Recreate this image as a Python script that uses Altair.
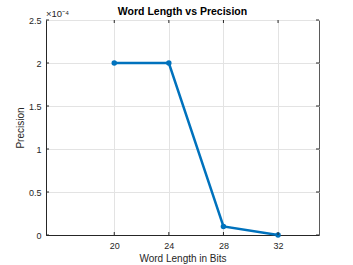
import altair as alt
import pandas as pd

word_length = [20, 24, 28, 32]
precision = [2.0e-4, 2.0e-4, 0.1e-4, 0.0]
x_ticks = [20, 24, 28, 32]
y_ticks = [0, 0.5e-4, 1.0e-4, 1.5e-4, 2.0e-4, 2.5e-4]

W, H = 273, 215
df = pd.DataFrame({"wl": word_length, "p": precision})
xt = pd.DataFrame({"wl": x_ticks})
yt = pd.DataFrame({"p": y_ticks})

FONT = "Liberation Sans"
LINE_COLOR = "#0072BD"
AX = "#262626"

xs = alt.Scale(domain=[15, 35], nice=False, zero=False)
ys = alt.Scale(domain=[0, 2.5e-4], nice=False)

x_enc = alt.X("wl:Q", scale=xs,
              axis=alt.Axis(values=x_ticks, title="Word Length in Bits", grid=True,
                            ticks=False, labelPadding=6, titlePadding=3,
                            domainColor=AX, labelColor=AX,
                            titleColor=AX, labelFontSize=9, titleFontSize=10,
                            titleFontWeight="normal", gridColor="#e3e3e3"))
y_enc = alt.Y("p:Q", scale=ys,
              axis=alt.Axis(values=y_ticks, title="Precision", grid=True,
                            ticks=False, labelPadding=5, titlePadding=3,
                            labelExpr="format(datum.value*10000, '~g')",
                            domainColor=AX, labelColor=AX,
                            titleColor=AX, labelFontSize=9, titleFontSize=10,
                            titleFontWeight="normal", gridColor="#e3e3e3"))

line = alt.Chart(df).mark_line(color=LINE_COLOR, strokeWidth=2.5).encode(x=x_enc, y=y_enc)
pts = alt.Chart(df).mark_point(color=LINE_COLOR, filled=True, size=30, opacity=1).encode(
    x=alt.X("wl:Q", scale=xs), y=alt.Y("p:Q", scale=ys))

# inward ticks on all four sides
tb = alt.Chart(xt).mark_rule(color=AX, strokeWidth=1).encode(
    x=alt.X("wl:Q", scale=xs), y=alt.value(H), y2=alt.value(H - 3))
tt = alt.Chart(xt).mark_rule(color=AX, strokeWidth=1).encode(
    x=alt.X("wl:Q", scale=xs), y=alt.value(0), y2=alt.value(3))
tl = alt.Chart(yt).mark_rule(color=AX, strokeWidth=1).encode(
    y=alt.Y("p:Q", scale=ys), x=alt.value(0), x2=alt.value(3))
tr = alt.Chart(yt).mark_rule(color=AX, strokeWidth=1).encode(
    y=alt.Y("p:Q", scale=ys), x=alt.value(W), x2=alt.value(W - 3))

expo = alt.Chart(pd.DataFrame({"t": ["×10⁻⁴"]})).mark_text(
    align="left", baseline="bottom", fontSize=9.5, color=AX, font=FONT
).encode(x=alt.value(0), y=alt.value(-1), text="t:N")

title = alt.Chart(pd.DataFrame({"t": ["Word Length vs Precision"]})).mark_text(
    align="center", baseline="bottom", fontSize=10.5, fontWeight="bold", color="#000000", font=FONT
).encode(x=alt.value(W / 2), y=alt.value(-3), text="t:N")

chart = alt.layer(line, pts, tb, tt, tl, tr, expo, title).properties(
    width=W, height=H,
    autosize=alt.AutoSizeParams(type="none"),
    padding={"left": 46, "top": 20, "right": 34, "bottom": 30},
).configure(font=FONT, background="white").configure_view(stroke="#5a5a5a", strokeWidth=1)

chart.save("out.html", embed_options={"renderer": "svg", "actions": False})
